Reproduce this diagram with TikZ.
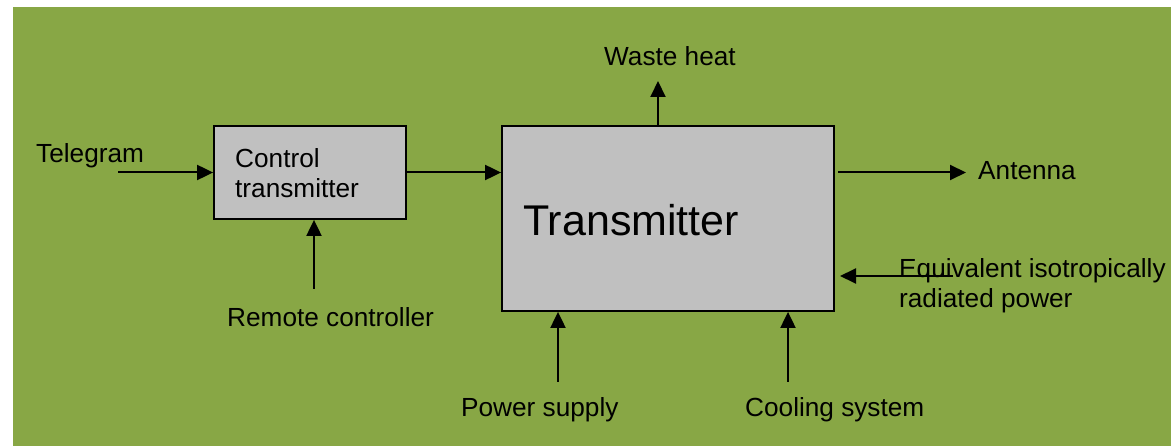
\documentclass[tikz,border=0pt]{standalone}
\usepackage{fontspec}
\setmainfont{Liberation Sans}
\usetikzlibrary{arrows.meta}
\definecolor{bggreen}{RGB}{136,167,69}
\definecolor{boxgray}{RGB}{192,192,192}
\tikzset{
  lbl/.style={inner sep=0pt, anchor=base west, font=\fontsize{26.2}{30.5}\selectfont},
  mlbl/.style={inner sep=0pt, anchor=north west, align=left, font=\fontsize{26.2}{30.5}\selectfont},
  blk/.style={draw=black, line width=1.8pt, fill=boxgray, inner sep=0pt},
  arr/.style={line width=2pt, -{Triangle[length=16pt,width=15pt]}}
}
\begin{document}
\begin{tikzpicture}[x=1pt,y=-1pt]
\useasboundingbox (0,0) rectangle (1171,446);
\fill[white] (0,0) rectangle (1171,446);
\fill[bggreen] (13,7) rectangle (1171,446);
% blocks
\node[blk, minimum width=192pt, minimum height=93pt] (ctrl) at (310,172.5) {};
\node[blk, minimum width=332pt, minimum height=185pt] (tx) at (668,218.5) {};
\node[mlbl] (ctrltxt) at (235,148.2) {Control\\transmitter};
\node[inner sep=0pt, anchor=base west, font=\fontsize{43}{50}\selectfont] (txtxt) at (523,236) {Transmitter};
% labels
\node[lbl] (tel) at (36,163) {Telegram};
\node[lbl] (rem) at (227,327) {Remote controller};
\node[lbl] (waste) at (604,66) {Waste heat};
\node[lbl] (ant) at (978,180) {Antenna};
\node[mlbl] (eirp) at (899,258.2) {Equivalent isotropically\\radiated power};
\node[lbl] (pow) at (461,417) {Power supply};
\node[lbl] (cool) at (745,417) {Cooling system};
% connector ends
\coordinate (telS) at (118,172.5);
\coordinate (remS) at (314,289);
\coordinate (wasteE) at (658,81);
\coordinate (antE) at (966,172.5);
\coordinate (antS) at (838,172.5);
\coordinate (eirpS) at (953,276);
\coordinate (eirpE) at (840,276);
\coordinate (powS) at (558,382);
\coordinate (coolS) at (788,382);
% connectors
\draw[arr] (telS) -- (ctrl.west |- telS);
\draw[arr] (ctrl.east |- telS) -- (tx.west |- telS);
\draw[arr] (remS) -- (ctrl.south -| remS);
\draw[arr] (tx.north -| wasteE) -- (wasteE);
\draw[arr] (antS) -- (antE);
\draw[arr] (eirpS) -- (eirpE);
\draw[arr] (powS) -- (tx.south -| powS);
\draw[arr] (coolS) -- (tx.south -| coolS);
\end{tikzpicture}
\end{document}
